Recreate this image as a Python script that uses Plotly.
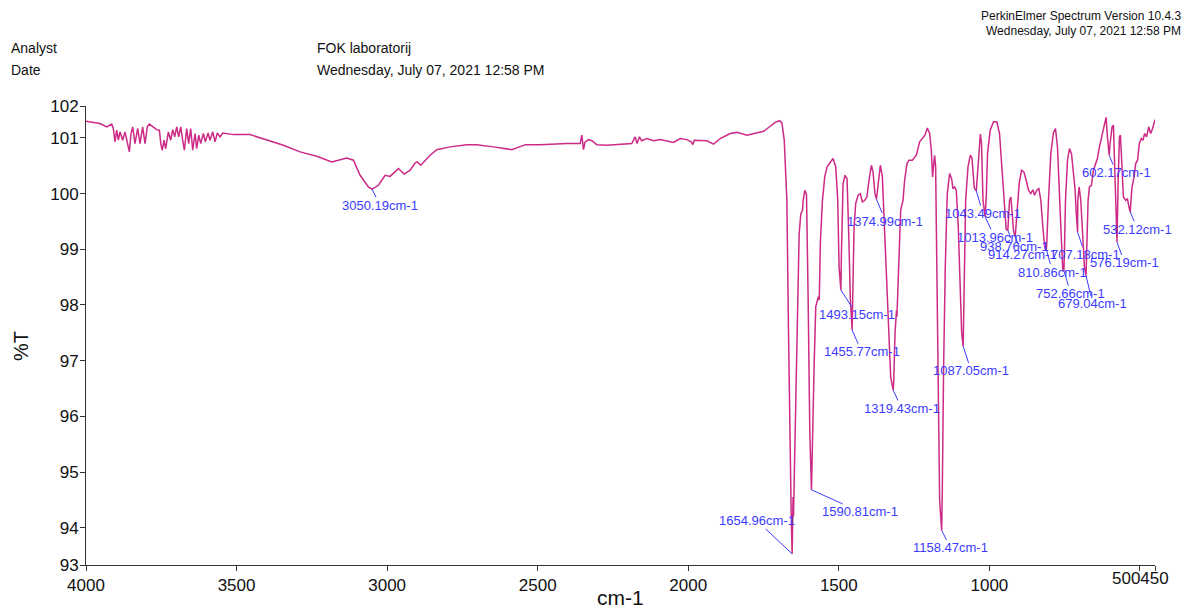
import plotly.graph_objects as go

# ---- spectrum data (wavenumber cm-1, %T) ----
wavenumber = [
    4000, 3953.5, 3931.3, 3914.7, 3909.2, 3903.7, 3898.1, 3892.6, 3887.1, 3878.2,
    3870.4, 3864.9, 3856.0, 3850.5, 3845.0, 3837.2, 3828.4, 3820.6, 3811.8, 3804.0,
    3796.3, 3789.6, 3776.3, 3765.3, 3756.4, 3750.9, 3746.5, 3740.9, 3735.4, 3726.5,
    3718.8, 3712.1, 3705.5, 3698.8, 3692.2, 3685.5, 3678.9, 3673.3, 3665.6, 3659.0,
    3652.3, 3645.7, 3637.9, 3632.4, 3625.7, 3619.1, 3610.2, 3603.6, 3594.7, 3588.1,
    3579.2, 3571.5, 3563.7, 3554.9, 3546.0, 3532.7, 3510.6, 3455.2, 3399.8, 3344.4,
    3289.1, 3233.7, 3183.9, 3134.1, 3111.9, 3089.8, 3062.1, 3050.19, 3028.9, 3006.7,
    2990.1, 2962.5, 2943.6, 2923.7, 2907.1, 2900.0, 2888.2, 2873.9, 2857.3, 2835.1,
    2790.9, 2735.5, 2702.3, 2647.0, 2585.9, 2540.4, 2491.8, 2403.2, 2370.0, 2359.0,
    2353.4, 2348.0, 2342.4, 2331.4, 2320.0, 2303.7, 2270.5, 2226.2, 2187.5, 2176.4,
    2170.0, 2162.0, 2155.0, 2137.5, 2115.0, 2093.2, 2070.0, 2049.0, 2026.8, 2005.0,
    1990.0, 1984.7, 1980.0, 1960.4, 1938.0, 1916.1, 1893.9, 1860.7, 1838.0, 1805.3,
    1772.1, 1750.0, 1727.8, 1711.2, 1696.8, 1688.9, 1681.2, 1672.5, 1667.0, 1661.4,
    1658.0, 1654.96, 1653.5, 1652.0, 1650.5, 1648.5, 1644.0, 1640.6, 1631.7, 1626.1,
    1620.6, 1618.4, 1612.8, 1607.3, 1601.8, 1596.3, 1590.81, 1587.6, 1582.1, 1576.6,
    1572.1, 1567.7, 1565.0, 1561.0, 1554.4, 1546.7, 1539.0, 1530.1, 1519.1, 1510.2,
    1503.6, 1499.1, 1493.15, 1491.4, 1485.9, 1479.3, 1472.7, 1467.1, 1461.6, 1455.77,
    1453.8, 1449.4, 1443.9, 1436.1, 1428.4, 1421.7, 1414.0, 1407.0, 1399.6, 1391.9,
    1386.4, 1380.0, 1374.99, 1368.7, 1362.0, 1355.4, 1347.7, 1340.0, 1333.4, 1327.8,
    1319.43, 1317.8, 1313.4, 1310.1, 1308.5, 1307.0, 1300.2, 1294.6, 1286.9, 1281.4,
    1273.6, 1267.0, 1255.9, 1242.6, 1231.6, 1222.7, 1213.9, 1206.2, 1198.4, 1192.9,
    1188.5, 1185.2, 1181.8, 1178.5, 1174.1, 1169.7, 1165.2, 1158.47, 1156.4, 1152.0,
    1146.5, 1139.8, 1132.1, 1125.5, 1121.1, 1115.5, 1110.0, 1103.3, 1096.7, 1092.0,
    1087.05, 1085.4, 1078.8, 1071.0, 1063.3, 1058.0, 1050.0, 1043.49, 1040.0, 1035.6,
    1030.0, 1026.0, 1021.2, 1013.96, 1010.0, 1006.1, 997.3, 986.2, 975.2, 966.3,
    958.6, 950.8, 944.2, 938.76, 933.1, 928.6, 924.2, 919.8, 914.27, 908.8,
    901.1, 893.3, 885.5, 877.8, 870.1, 862.4, 855.6, 850.1, 842.4, 835.7,
    829.1, 822.4, 816.0, 810.86, 809.2, 803.7, 796.0, 787.1, 780.5, 773.9,
    767.2, 761.7, 756.5, 752.66, 751.0, 747.3, 740.6, 734.0, 727.4, 720.7,
    715.2, 712.0, 707.18, 706.4, 702.0, 696.5, 689.8, 684.3, 679.04, 676.6,
    672.2, 667.7, 661.1, 654.5, 648.9, 641.2, 634.6, 626.8, 619.0, 612.4,
    608.0, 602.17, 599.1, 592.5, 588.0, 583.6, 579.2, 576.19, 572.5, 568.1,
    564.8, 560.4, 554.8, 547.1, 541.6, 536.0, 532.12, 529.0, 526.1, 519.5,
    514.0, 508.0, 502.0, 495.4, 490.0, 484.3, 478.0, 471.0, 464.4, 458.0,
    452.0, 450.0,
]
transmittance = [
    101.30, 101.26, 101.20, 101.25, 101.17, 100.93, 101.14, 100.96, 101.11, 100.96,
    101.11, 100.96, 100.75, 101.08, 101.20, 100.90, 101.17, 100.90, 101.20, 100.90,
    101.20, 101.25, 101.20, 101.15, 101.14, 100.87, 100.78, 100.96, 100.81, 101.11,
    100.96, 101.15, 101.02, 101.20, 101.02, 101.20, 100.96, 100.78, 101.17, 100.90,
    101.17, 100.78, 101.08, 100.81, 101.05, 100.90, 101.08, 100.93, 101.09, 100.96,
    101.11, 100.93, 101.09, 101.02, 101.09, 101.08, 101.06, 101.06, 100.97, 100.87,
    100.75, 100.67, 100.57, 100.64, 100.60, 100.33, 100.12, 100.08, 100.15, 100.33,
    100.31, 100.45, 100.35, 100.42, 100.55, 100.57, 100.51, 100.60, 100.69, 100.79,
    100.84, 100.88, 100.88, 100.84, 100.79, 100.88, 100.88, 100.90, 100.91, 100.90,
    101.05, 100.79, 100.93, 100.97, 100.95, 100.88, 100.87, 100.88, 100.90, 101.02,
    100.90, 101.02, 100.95, 100.99, 100.95, 100.97, 100.95, 100.92, 100.99, 100.97,
    100.93, 100.88, 100.96, 100.95, 100.95, 100.89, 100.99, 101.08, 101.10, 101.05,
    101.09, 101.12, 101.21, 101.28, 101.31, 101.27, 100.96, 99.88, 97.49, 95.10,
    94.20, 93.53, 94.35, 94.55, 94.20, 94.90, 95.90, 96.89, 99.28, 99.64,
    99.70, 99.88, 100.06, 99.98, 98.09, 95.70, 94.68, 95.70, 96.89, 97.97,
    98.09, 98.15, 98.09, 99.16, 99.88, 100.30, 100.48, 100.54, 100.63, 100.48,
    99.88, 98.68, 98.27, 98.90, 100.18, 100.33, 100.27, 99.28, 98.09, 97.55,
    98.39, 99.40, 99.82, 99.97, 100.00, 99.85, 99.88, 99.94, 100.24, 100.51,
    100.39, 100.00, 99.90, 100.21, 100.51, 100.30, 99.28, 98.09, 97.19, 96.71,
    96.47, 96.60, 97.49, 97.79, 97.90, 97.79, 98.98, 99.70, 99.88, 100.24,
    100.54, 100.60, 100.60, 100.69, 100.93, 100.99, 101.05, 101.18, 101.08, 100.78,
    100.30, 100.51, 100.69, 100.48, 98.68, 96.29, 94.49, 93.95, 94.60, 96.89,
    98.68, 100.00, 100.36, 100.27, 100.09, 100.12, 100.06, 99.40, 98.09, 97.50,
    97.26, 97.90, 99.88, 100.48, 100.69, 100.64, 100.10, 100.05, 100.30, 100.75,
    101.07, 100.90, 99.88, 99.58, 100.00, 100.72, 101.14, 101.29, 101.29, 101.08,
    100.48, 99.70, 99.36, 99.34, 99.88, 99.94, 99.70, 99.34, 99.22, 99.70,
    100.18, 100.42, 100.39, 100.24, 100.06, 100.00, 100.07, 99.97, 100.06, 100.09,
    99.88, 99.40, 99.02, 99.00, 99.15, 99.88, 100.72, 101.10, 101.17, 100.84,
    100.12, 99.28, 98.65, 98.62, 98.90, 99.88, 100.60, 100.81, 100.72, 100.42,
    100.06, 99.70, 99.31, 99.88, 100.12, 99.88, 99.16, 98.68, 98.53, 98.98,
    99.88, 100.12, 100.15, 100.42, 100.51, 100.63, 100.84, 101.02, 101.20, 101.37,
    101.02, 100.69, 100.90, 101.20, 101.23, 100.48, 99.40, 99.13, 100.18, 101.02,
    101.05, 100.60, 99.94, 99.88, 99.91, 99.75, 99.67, 99.94, 100.12, 100.30,
    100.54, 100.60, 100.90, 100.99, 100.96, 101.08, 101.02, 101.20, 101.08, 101.17,
    101.31, 101.33,
]

# labelled peaks
peak_wn = [3050.19, 1654.96, 1590.81, 1493.15, 1455.77, 1374.99, 1319.43, 1158.47,
           1087.05, 1043.49, 1013.96, 938.76, 914.27, 810.86, 752.66, 707.18,
           679.04, 602.17, 576.19, 532.12]
peak_T = [100.08, 93.53, 94.68, 98.27, 97.55, 99.90, 96.47, 93.95,
          97.26, 100.05, 99.58, 99.34, 99.22, 99.00, 98.62, 99.31,
          98.53, 100.69, 99.13, 99.67]
# label offsets (pixels from peak to label centre)
label_dx = [8, -35, 49, 16, 9.5, 9, 8.4, 9, 8, 6.7, 9.7, 6.5, 7.6, 6.2, 6.9, 7.6, 6.6, 7.1, 7.5, 7.4]
label_dy = [16, -33, 22, 25, 21.7, 21.8, 18.2, 17.4, 24.7, 22.8, 20.3, 15.8, 17.3, 22.7, 23.2, 22.6, 28.3, 17.3, 20.9, 17.3]

# axis ticks (the last two labels are drawn run together, as in the reference)
x_tickvals = [4000, 3500, 3000, 2500, 2000, 1500, 1000, 500, 450]
x_ticktext = ["4000", "3500", "3000", "2500", "2000", "1500", "1000", "", ""]
x_end_label = "500450"
y_min, y_max = 93.33, 101.574
y_tickvals = [y_min, 94, 95, 96, 97, 98, 99, 100, 101, y_max]
y_ticktext = ["93", "94", "95", "96", "97", "98", "99", "100", "101", "102"]

FONT = "Liberation Sans, Arial, Helvetica, sans-serif"
LINE_COLOR = "#cc2a86"
LABEL_COLOR = "#3b3bff"
TEXT_COLOR = "#111111"

fig = go.Figure()
fig.add_trace(go.Scatter(x=wavenumber, y=transmittance, mode="lines",
                         line=dict(color=LINE_COLOR, width=1.5),
                         hoverinfo="skip", showlegend=False))

annotations = []
for wn, t, dx, dy in zip(peak_wn, peak_T, label_dx, label_dy):
    annotations.append(dict(
        x=wn, y=t, xref="x", yref="y", text=f"{wn:.2f}cm-1",
        showarrow=True, arrowhead=0, arrowwidth=1, arrowcolor=LABEL_COLOR,
        ax=dx, ay=dy, axref="pixel", ayref="pixel",
        font=dict(family=FONT, size=13, color=LABEL_COLOR),
        borderpad=0,
    ))

# plot area in pixels
L, R, T, B = 86, 1154.7, 105.7, 565.3
W, H = R - L, B - T


def px_to_paper(px, py):
    return (px - L) / W, (B - py) / H


def text_at(text, px, py, anchor, size, angle=0):
    xp, yp = px_to_paper(px, py)
    return dict(x=xp, y=yp, xref="paper", yref="paper", text=text, showarrow=False,
                xanchor=anchor, yanchor="middle", textangle=angle, borderpad=0,
                font=dict(family=FONT, size=size, color=TEXT_COLOR))


annotations += [
    text_at("Analyst", 10, 48, "left", 14),
    text_at("Date", 10, 70, "left", 14),
    text_at("FOK laboratorij", 316, 48, "left", 14),
    text_at("Wednesday, July 07, 2021 12:58 PM", 316, 70, "left", 14),
    text_at("PerkinElmer Spectrum Version 10.4.3", 1182, 16, "right", 12),
    text_at("Wednesday, July 07, 2021 12:58 PM", 1182, 31, "right", 12),
    text_at("%T", 21, 346, "center", 20, -90),
    text_at("cm-1", 620, 598, "center", 21),
    text_at(x_end_label, 1140, 579, "center", 17),
]

fig.update_layout(
    width=1184, height=610,
    margin=dict(l=L, r=1184 - R, t=T, b=610 - B, pad=0, autoexpand=False),
    paper_bgcolor="white", plot_bgcolor="white",
    annotations=annotations,
    showlegend=False,
)
fig.update_xaxes(range=[4000, 450], tickvals=x_tickvals, ticktext=x_ticktext,
                 tickangle=0, automargin=False,
                 showgrid=False, zeroline=False, showline=True, linecolor="#333333",
                 linewidth=1, ticks="outside", ticklen=5, tickcolor="#333333",
                 tickfont=dict(family=FONT, size=17, color=TEXT_COLOR))
fig.update_yaxes(range=[y_min, y_max], tickvals=y_tickvals, ticktext=y_ticktext,
                 tickangle=0, automargin=False, ticklabelstandoff=-2,
                 showgrid=False, zeroline=False, showline=True, linecolor="#333333",
                 linewidth=1, ticks="outside", ticklen=5, tickcolor="#333333",
                 tickfont=dict(family=FONT, size=17, color=TEXT_COLOR))

fig.write_html("out.html", config={"displayModeBar": False},
               post_script="document.body.style.margin='0';document.body.style.padding='0';")
